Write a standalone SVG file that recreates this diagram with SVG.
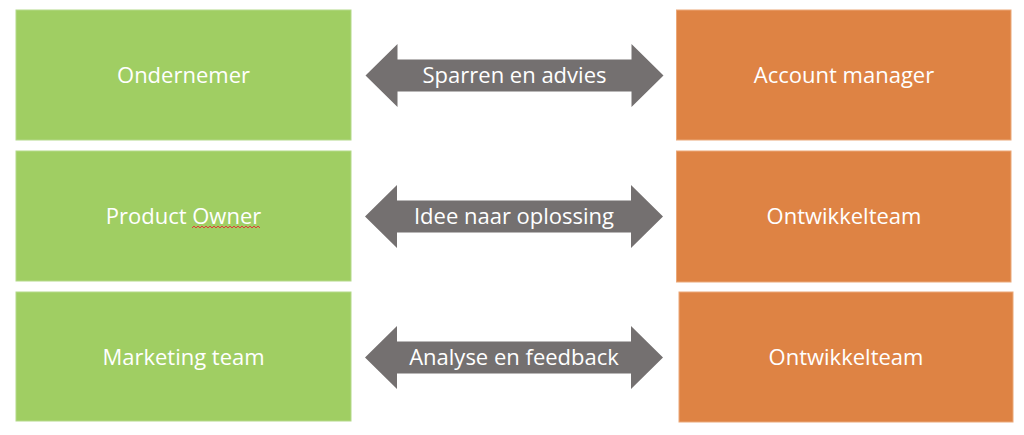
<svg xmlns="http://www.w3.org/2000/svg" width="1024" height="435" viewBox="0 0 1024 435">
<style>
.g{fill:#A0CE63;stroke:#B4D98A;stroke-width:1}
.o{fill:#DE8344;stroke:#EBA878;stroke-width:1}
.a{fill:#747070}
text{font-family:"Open Sans","Noto Sans","Liberation Sans",sans-serif;font-size:22px;fill:#ffffff;text-anchor:middle}
</style>
<defs>
<path id="dbl" d="M-149,0 L-117,-31.5 L-117,-16 L117,-16 L117,-31.5 L149,0 L117,31.5 L117,16 L-117,16 L-117,31.5 Z"/>
</defs>
<rect width="1024" height="435" fill="#ffffff"/>
<g id="ondernemer"><rect class="g" x="16" y="10" width="335" height="130"/><text x="183.5" y="83">Ondernemer</text></g>
<g id="product-owner"><rect class="g" x="16" y="151" width="335" height="130"/><text x="183.5" y="224">Product Owner</text>
<path d="M192,228 l2,-2 l2,2 l2,-2 l2,2 l2,-2 l2,2 l2,-2 l2,2 l2,-2 l2,2 l2,-2 l2,2 l2,-2 l2,2 l2,-2 l2,2 l2,-2 l2,2 l2,-2 l2,2 l2,-2 l2,2 l2,-2 l2,2 l2,-2 l2,2 l2,-2 l2,2 l2,-2 l2,2 l2,-2 l2,2 l2,-2 l2,2" fill="none" stroke="#E03A3A" stroke-width="1"/></g>
<g id="marketing-team"><rect class="g" x="16" y="292" width="335" height="129"/><text x="183.5" y="365">Marketing team</text></g>
<g id="account-manager"><rect class="o" x="676.5" y="10" width="334.5" height="130"/><text x="844" y="83">Account manager</text></g>
<g id="ontwikkelteam-1"><rect class="o" x="676.5" y="151" width="334.5" height="131"/><text x="844" y="224">Ontwikkelteam</text></g>
<g id="ontwikkelteam-2"><rect class="o" x="679" y="292" width="334" height="130"/><text x="846" y="365">Ontwikkelteam</text></g>
<g id="connectors">
<g transform="translate(514.5,75.5)"><use href="#dbl" class="a"/><text x="0" y="7.5">Sparren en advies</text></g>
<g transform="translate(514,216.5)"><use href="#dbl" class="a"/><text x="0" y="7.5">Idee naar oplossing</text></g>
<g transform="translate(514,357.5)"><use href="#dbl" class="a"/><text x="0" y="7.5">Analyse en feedback</text></g>
</g>
</svg>
